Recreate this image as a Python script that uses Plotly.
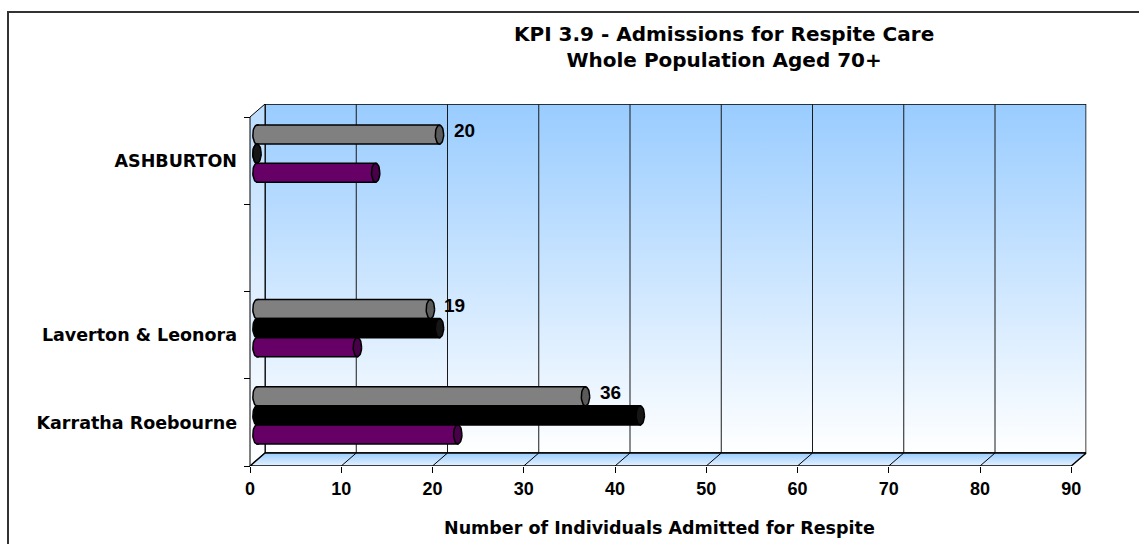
import numpy as np
import plotly.graph_objects as go

# ---- data -------------------------------------------------------------
# Regions listed top to bottom; the blank entry is an empty row of the table.
regions = ["ASHBURTON", "", "Laverton & Leonora", "Karratha Roebourne"]
grey_values = [20, None, 19, 36]
black_values = [0, None, 20, 42]
purple_values = [13, None, 11, 22]
x_ticks = [0, 10, 20, 30, 40, 50, 60, 70, 80, 90]

title_text = "KPI 3.9 - Admissions for Respite Care<br>Whole Population Aged 70+"
x_title = "Number of Individuals Admitted for Respite"

# ---- geometry of the pseudo-3D box (pixels) ----------------------------
W, H = 1139, 544
PX_X = 9.125            # pixels per unit on the value axis
FRONT_L, FRONT_B, FRONT_T = 250, 466, 117
DEPTH_DX, DEPTH_DY = 15, 13
SLOT = (FRONT_B - FRONT_T) / len(regions)   # pixels per category row
BAR_SHIFT_PX = 7                              # bars sit half way into the box
PAD = 1.0                                     # room left of zero for end caps

DX = DEPTH_DX / PX_X           # depth offset in value units
DY = DEPTH_DY / SLOT           # depth offset in row units
SHIFT = BAR_SHIFT_PX / PX_X    # bar depth shift in value units
X_MAX = x_ticks[-1]
N = len(regions)
Y_TOP = N + DY

WORD_FONT = "DejaVu Sans"
NUM_FONT = "Liberation Sans, Arial"

fig = go.Figure()

# back wall with blue gradient
fig.add_trace(go.Scatter(
    x=[DX, X_MAX + DX, X_MAX + DX, DX, DX],
    y=[DY, DY, Y_TOP, Y_TOP, DY],
    mode="lines", fill="toself",
    fillgradient=dict(type="vertical", start=DY, stop=Y_TOP,
                      colorscale=[[0, "#FFFFFF"], [1, "#99CCFF"]]),
    line=dict(color="black", width=1.5), hoverinfo="skip"))

# vertical gridlines on the back wall
gx, gy = [], []
for v in x_ticks[1:-1]:
    gx += [v + DX, v + DX, None]
    gy += [DY, Y_TOP, None]
fig.add_trace(go.Scatter(x=gx, y=gy, mode="lines",
                         line=dict(color="#1a1a1a", width=1), hoverinfo="skip"))

# left side wall
fig.add_trace(go.Scatter(
    x=[0, 0, DX, DX, 0], y=[0, N, Y_TOP, DY, 0],
    mode="lines", fill="toself",
    fillgradient=dict(type="vertical", start=0, stop=Y_TOP,
                      colorscale=[[0, "#FFFFFF"], [1, "#BBDDFF"]]),
    line=dict(color="black", width=1), hoverinfo="skip"))

# floor
fig.add_trace(go.Scatter(
    x=[0, DX, X_MAX + DX, X_MAX, 0], y=[0, DY, DY, 0, 0],
    mode="lines", fill="toself",
    fillgradient=dict(type="vertical", start=0, stop=DY,
                      colorscale=[[0, "#E6F2FF"], [1, "#99CCFF"]]),
    line=dict(color="black", width=1.5), hoverinfo="skip"))

fx, fy = [], []
for v in x_ticks[1:-1]:
    fx += [v, v + DX, None]
    fy += [0, DY, None]
fig.add_trace(go.Scatter(x=fx, y=fy, mode="lines",
                         line=dict(color="black", width=1), hoverinfo="skip"))

# ---- cylinders ----------------------------------------------------------
BAR_W = 0.218
series = [
    ("Grey", grey_values, "#808080", "#5A5A5A", BAR_SHIFT_PX / SLOT + BAR_W),
    ("Black", black_values, "#000000", "#161616", BAR_SHIFT_PX / SLOT),
    ("Purple", purple_values, "#660066", "#480048", BAR_SHIFT_PX / SLOT - BAR_W),
]
RX = 4.2 / PX_X
RY = BAR_W / 2
EPS = 2 / PX_X
t_full = np.linspace(0, 2 * np.pi, 41)
t_half = np.linspace(np.pi / 2, 3 * np.pi / 2, 21)

row_pos = [N - 1 - i + 0.5 for i in range(N)]
label_points = []

for name, vals, color, face, shift in series:
    ys = [p + shift for p in row_pos]
    fig.add_trace(go.Bar(
        x=vals, y=ys, orientation="h", width=BAR_W, name=name,
        marker=dict(color=color, line=dict(color="black", width=1.5)),
        xaxis="x2", yaxis="y", hoverinfo="x"))
    lx, ly, ex, ey = [], [], [], []
    for v, yc in zip(vals, ys):
        if v is None:
            continue
        lx += [EPS] + list(RX * np.cos(t_half)) + [EPS, None]
        ly += [yc + RY] + list(yc + RY * np.sin(t_half)) + [yc - RY, None]
        ex += list(v + RX * np.cos(t_full)) + [None]
        ey += list(yc + RY * np.sin(t_full)) + [None]
    fig.add_trace(go.Scatter(x=lx, y=ly, mode="lines", fill="toself",
                             fillcolor=color, line=dict(color="black", width=1.5),
                             xaxis="x2", yaxis="y", hoverinfo="skip"))
    fig.add_trace(go.Scatter(x=ex, y=ey, mode="lines", fill="toself",
                             fillcolor=face, line=dict(color="black", width=1.5),
                             xaxis="x2", yaxis="y", hoverinfo="skip"))
    if name == "Grey":
        label_points = [(v, yc) for v, yc in zip(vals, ys) if v is not None]

annotations = [
    dict(x=v, y=yc, xref="x2", yref="y", text=str(v), showarrow=False,
         xanchor="left", yanchor="middle", xshift=12, yshift=4,
         font=dict(family=NUM_FONT, size=19, color="black", weight="bold"))
    for v, yc in label_points
]
annotations.append(dict(
    x=724 / W, y=1 - 47 / H, xref="paper", yref="paper", text=title_text,
    showarrow=False, xanchor="center", yanchor="middle", align="center",
    font=dict(family=WORD_FONT, size=20, color="black", weight="bold")))
annotations.append(dict(
    x=659 / W, y=1 - 528 / H, xref="paper", yref="paper", text=x_title,
    showarrow=False, xanchor="center", yanchor="middle",
    font=dict(family=WORD_FONT, size=17.5, color="black", weight="bold")))

x_span = (X_MAX + DX + PAD) * PX_X
x_dom = [(FRONT_L - PAD * PX_X) / W, (FRONT_L - PAD * PX_X + x_span) / W]
y_dom = [1 - FRONT_B / H, 1 - (FRONT_T - DEPTH_DY) / H]

label_vals = [p for p, r in zip(row_pos, regions) if r]
label_text = [r for r in regions if r]

fig.update_layout(
    width=W, height=H, autosize=False,
    margin=dict(l=0, r=0, t=0, b=0),
    paper_bgcolor="white", plot_bgcolor="rgba(0,0,0,0)",
    showlegend=False, barmode="overlay",
    xaxis=dict(domain=x_dom, range=[-PAD, X_MAX + DX], showgrid=False,
               zeroline=False, showline=False,
               tickmode="array", tickvals=x_ticks,
               ticktext=[str(t) for t in x_ticks],
               ticks="outside", ticklen=6, tickcolor="black", tickwidth=1,
               tickfont=dict(family=NUM_FONT, size=18, color="black", weight="bold"),
               anchor="y", fixedrange=True),
    # overlay axis for the cylinders: same domain, range shifted half a box depth
    xaxis2=dict(range=[-PAD - SHIFT, X_MAX + DX - SHIFT], overlaying="x",
                anchor="y", visible=False, fixedrange=True),
    yaxis=dict(domain=y_dom, range=[0, Y_TOP], showgrid=False,
               zeroline=False, showline=False,
               tickmode="array", tickvals=label_vals, ticktext=label_text,
               ticks="", ticklabelstandoff=13,
               tickfont=dict(family=WORD_FONT, size=17.5, color="black", weight="bold"),
               minor=dict(tickmode="array", tickvals=list(range(N + 1)),
                          ticks="outside", ticklen=6, tickcolor="black",
                          tickwidth=1, showgrid=False),
               anchor="free", position=FRONT_L / W, fixedrange=True),
    annotations=annotations,
    shapes=[dict(type="rect", xref="paper", yref="paper",
                 x0=8 / W, x1=1.2, y0=-0.2, y1=1 - 12 / H,
                 line=dict(color="#333333", width=2))],
)

fig.write_html("out.html")
